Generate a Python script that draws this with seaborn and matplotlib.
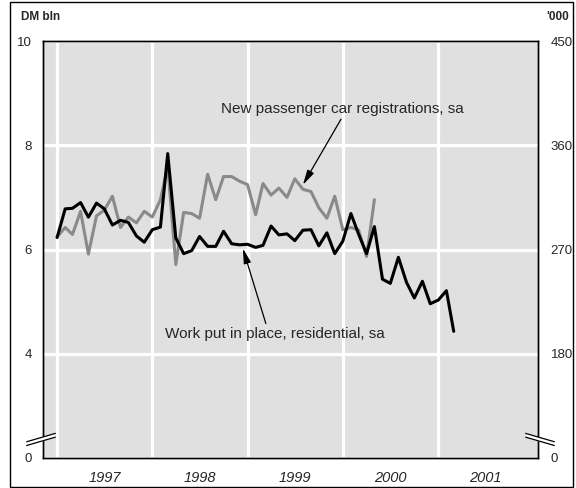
import numpy as np
import pandas as pd
import matplotlib
matplotlib.use("Agg")
import matplotlib.pyplot as plt
import matplotlib.dates as mdates
from matplotlib.patches import Rectangle
import seaborn as sns

sns.set_style("white")
plt.rcParams['font.family'] = ['Liberation Sans', 'DejaVu Sans']

# monthly series from Jan 1997
start_month = "1997-01-01"

# work put in place, residential, sa (DM bln, left axis)
work_residential = [6.23, 6.78, 6.79, 6.90, 6.62, 6.89, 6.78, 6.47, 6.56, 6.52, 6.26, 6.14,
                    6.38, 6.43, 7.84, 6.22, 5.92, 5.98, 6.25, 6.06, 6.06, 6.35, 6.11, 6.09,
                    6.10, 6.04, 6.08, 6.45, 6.28, 6.30, 6.17, 6.37, 6.38, 6.07, 6.32, 5.92,
                    6.16, 6.69, 6.30, 5.92, 6.44, 5.43, 5.35, 5.85, 5.37, 5.07, 5.39, 4.96,
                    5.03, 5.21, 4.43]

# new passenger car registrations, sa ('000, right axis)
car_registrations = [281, 289, 283, 303, 266, 299, 304, 316, 289, 298, 293, 303,
                     298, 313, 342, 257, 302, 301, 297, 335, 313, 333, 333, 329,
                     326, 300, 327, 317, 323, 315, 331, 322, 320, 306, 297, 316,
                     287, 289, 287, 264, 313]

left_ticks = [2, 4, 6, 8, 10]
left_labels = ["0", "4", "6", "8", "10"]
right_ticks = [90, 180, 270, 360, 450]
right_labels = ["0", "180", "270", "360", "450"]
years = [1997, 1998, 1999, 2000, 2001]

work_df = pd.DataFrame({
    "date": pd.date_range(start_month, periods=len(work_residential), freq="MS"),
    "value": work_residential,
})
car_df = pd.DataFrame({
    "date": pd.date_range(start_month, periods=len(car_registrations), freq="MS"),
    "value": car_registrations,
})

fig = plt.figure(figsize=(5.76, 4.88), dpi=100)
ax = fig.add_axes([43 / 576, 1 - 458 / 488, 495 / 576, 417 / 488])
ax2 = ax.twinx()

# left axis on top so the black line sits over the grey one
ax.set_zorder(ax2.get_zorder() + 1)
ax.patch.set_visible(False)
ax2.patch.set_visible(True)
ax2.set_facecolor("#e0e0e0")

sns.lineplot(data=car_df, x="date", y="value", ax=ax2, color="#8a8a8a", linewidth=2.2)
sns.lineplot(data=work_df, x="date", y="value", ax=ax, color="black", linewidth=2.2)

ax.set_xlim(pd.Timestamp("1996-11-08"), pd.Timestamp("2002-01-18"))
ax.set_ylim(2, 10)
ax2.set_ylim(90, 450)

# year gridlines on the lower axes, labels centred in each year
year_starts = [pd.Timestamp(f"{y}-01-01") for y in years]
year_mids = [pd.Timestamp(f"{y}-07-02") for y in years]
for d in year_starts:
    ax2.axvline(d, color="white", linewidth=2.3, zorder=0.5)
ax.set_xticks(year_starts)
ax.set_xticklabels([])
ax.set_xticks(year_mids, minor=True)
ax.set_xticklabels([str(y) for y in years], minor=True, fontsize=10.5, style="italic")
ax.tick_params(axis="x", which="both", length=0, pad=9)

ax.set_yticks(left_ticks)
ax.set_yticklabels(left_labels, fontsize=9.5)
ax.tick_params(axis="y", length=0, pad=8)
ax2.set_yticks(right_ticks)
ax2.set_yticklabels(right_labels, fontsize=9.5)
ax2.tick_params(axis="y", length=0, pad=9)

ax2.grid(True, axis="y", color="white", linewidth=2.3)
ax2.set_axisbelow(True)
ax.grid(False)

for a in (ax, ax2):
    a.set_xlabel("")
    a.set_ylabel("")
    for s in a.spines.values():
        s.set_color("black")
        s.set_linewidth(1.0)

# axis break marks at the bottom of both axes
for xs, ys in [([-0.033, 0.025], [0.03, 0.05]), ([0.975, 1.033], [0.05, 0.03])]:
    ax.plot(xs, [y + 0.004 for y in ys], transform=ax.transAxes, color="white",
            linewidth=3, clip_on=False, zorder=10, solid_capstyle="butt")
    ax.plot(xs, ys, transform=ax.transAxes, color="black", linewidth=0.9,
            clip_on=False, zorder=11)
    ax.plot(xs, [y + 0.009 for y in ys], transform=ax.transAxes, color="black",
            linewidth=0.9, clip_on=False, zorder=11)

arrow = dict(arrowstyle="-|>,head_length=0.9,head_width=0.22", color="black",
             linewidth=0.9, shrinkA=0, shrinkB=0)
ax.text(mdates.date2num(pd.Timestamp("2000-01-01")), 8.70, "New passenger car registrations, sa",
        fontsize=11, ha="center", va="center")
ax.annotate("", xy=(mdates.date2num(pd.Timestamp("1999-08-01")), 7.24),
            xytext=(mdates.date2num(pd.Timestamp("1999-12-25")), 8.50), arrowprops=arrow)
ax.text(mdates.date2num(pd.Timestamp("1999-04-17")), 4.37, "Work put in place, residential, sa",
        fontsize=11, ha="center", va="center")
ax.annotate("", xy=(mdates.date2num(pd.Timestamp("1998-12-14")), 6.02),
            xytext=(mdates.date2num(pd.Timestamp("1999-03-12")), 4.58), arrowprops=arrow)

fig.text(21 / 576, 1 - 17 / 488, "DM bln", fontsize=8.5, fontweight="bold", va="center", ha="left")
fig.text(569 / 576, 1 - 17 / 488, "'000", fontsize=8.5, fontweight="bold", va="center", ha="right")

fig.add_artist(Rectangle((10 / 576, 1 / 488), 563 / 576, 485 / 488, transform=fig.transFigure,
                         fill=False, edgecolor="black", linewidth=1.0))

fig.savefig("out.png", dpi=100)
